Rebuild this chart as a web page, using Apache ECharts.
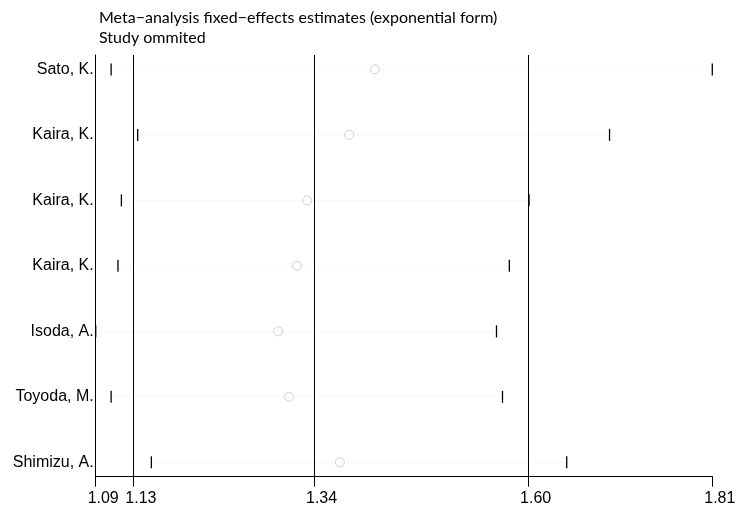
<!DOCTYPE html>
<html>
<head>
<meta charset="utf-8">
<script src="https://cdn.jsdelivr.net/npm/echarts@6/dist/echarts.min.js"></script>
<style>
  html, body { margin: 0; padding: 0; background: #fff; }
  #main { width: 741px; height: 508px; }
</style>
</head>
<body>
<div id="main"></div>
<script>
  // studies, top to bottom
  var studies = ['Sato, K.', 'Kaira, K.', 'Kaira, K.', 'Kaira, K.', 'Isoda, A.', 'Toyoda, M.', 'Shimizu, A.'];
  // estimate with the study omitted, and its CI
  var estimate = [1.416, 1.386, 1.337, 1.325, 1.303, 1.316, 1.375];
  var lower = [1.108, 1.139, 1.120, 1.116, 1.090, 1.108, 1.155];
  var upper = [1.810, 1.690, 1.596, 1.573, 1.558, 1.565, 1.640];
  // overall estimate and CI (vertical lines)
  var overall = [1.134, 1.345, 1.595];
  // x axis ticks
  var tickValues = [1.09, 1.134, 1.345, 1.595, 1.81];
  var tickLabels = ['1.09', '1.13', '1.34', '1.60', '1.81'];

  var n = studies.length;
  var rowPos = studies.map(function (s, i) { return n - i; });

  var ciData = studies.map(function (s, i) { return [rowPos[i], lower[i], upper[i]]; });
  var estData = studies.map(function (s, i) { return [estimate[i], rowPos[i]]; });

  var myChart = echarts.init(document.getElementById('main'));

  function nearestLabel(v) {
    var best = 0;
    for (var i = 1; i < tickValues.length; i++) {
      if (Math.abs(tickValues[i] - v) < Math.abs(tickValues[best] - v)) best = i;
    }
    return tickLabels[best];
  }

  var option = {
    backgroundColor: '#fff',
    animation: false,
    title: {
      text: 'Meta\u2212analysis fixed\u2212effects estimates (exponential form)',
      subtext: 'Study ommited',
      left: 99,
      top: 10,
      itemGap: 4,
      padding: 0,
      textStyle: { fontFamily: 'Lato', fontSize: 16, fontWeight: 'normal', color: '#000' },
      subtextStyle: { fontFamily: 'Lato', fontSize: 16, color: '#000' }
    },
    grid: {
      left: 95.7,
      right: 28.7,
      top: 55,
      bottom: 31.3,
      outerBoundsMode: 'none'
    },
    xAxis: {
      type: 'value',
      min: 1.09,
      max: 1.81,
      interval: 0.001,
      splitLine: { show: false },
      axisLine: { show: true, lineStyle: { color: '#000', width: 1 } },
      axisTick: { show: true, customValues: tickValues, length: 10, lineStyle: { color: '#000', width: 1 } },
      axisLabel: {
        customValues: tickValues,
        formatter: function (v) { return nearestLabel(v); },
        margin: 14,
        padding: [0, 0, 0, 15],
        color: '#000',
        fontFamily: 'Liberation Sans',
        fontSize: 16
      }
    },
    yAxis: {
      type: 'value',
      min: 0.78,
      max: 7.22,
      splitLine: { show: false },
      axisLine: { show: true, lineStyle: { color: '#000', width: 1 } },
      axisTick: { show: false },
      axisLabel: {
        customValues: rowPos,
        formatter: function (v) { return studies[n - Math.round(v)]; },
        margin: 2,
        color: '#000',
        fontFamily: 'Liberation Sans',
        fontSize: 16
      }
    },
    series: [
      {
        type: 'custom',
        data: ciData,
        encode: { x: [1, 2], y: 0 },
        z: 2,
        renderItem: function (params, api) {
          var y = api.value(0);
          var lo = api.coord([api.value(1), y]);
          var hi = api.coord([api.value(2), y]);
          return {
            type: 'group',
            children: [
              {
                type: 'line',
                shape: { x1: lo[0], y1: lo[1], x2: hi[0], y2: hi[1] },
                style: { stroke: '#e2e2e2', lineWidth: 1, lineDash: [1, 3] }
              },
              {
                type: 'line',
                shape: { x1: lo[0], y1: lo[1] - 6, x2: lo[0], y2: lo[1] + 6 },
                style: { stroke: '#000', lineWidth: 1.3 }
              },
              {
                type: 'line',
                shape: { x1: hi[0], y1: hi[1] - 6, x2: hi[0], y2: hi[1] + 6 },
                style: { stroke: '#000', lineWidth: 1.3 }
              }
            ]
          };
        },
        markLine: {
          silent: true,
          symbol: 'none',
          precision: 4,
          label: { show: false },
          lineStyle: { color: '#000', width: 1, type: 'solid' },
          data: overall.map(function (v) { return { xAxis: v }; })
        }
      },
      {
        type: 'scatter',
        data: estData,
        symbol: 'circle',
        symbolSize: 9,
        z: 3,
        itemStyle: { color: '#fff', borderColor: '#c4c4c4', borderWidth: 1 }
      }
    ]
  };

  myChart.setOption(option);
</script>
</body>
</html>
